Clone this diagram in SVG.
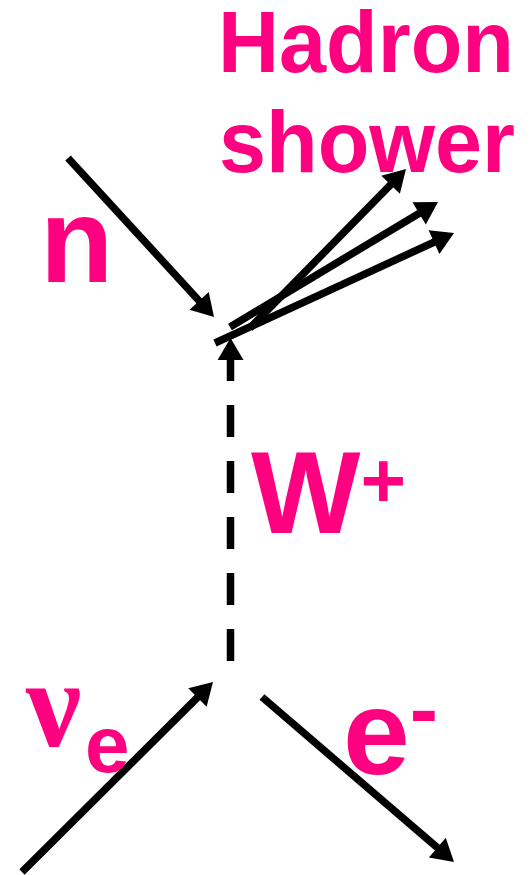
<svg xmlns="http://www.w3.org/2000/svg" width="530" height="875" viewBox="0 0 530 875">
<style>
.lbl{fill:#FF0080;font-family:"Liberation Sans",Arial,sans-serif;font-weight:bold}
.ln{stroke:#000;stroke-width:7.5;fill:none}
.dash{stroke-dasharray:32 24}
</style>
<defs>
<marker id="ah" markerUnits="userSpaceOnUse" markerWidth="24" markerHeight="26" viewBox="0 0 22 26" refX="10" refY="13" orient="auto">
<path d="M0,0 L22,13 L0,26 Z" fill="#000"/>
</marker>
</defs>
<rect width="530" height="875" fill="#fff"/>
<g id="connectors">
<line class="ln" x1="68" y1="158" x2="205.9" y2="308.2" marker-end="url(#ah)"/>
<line class="ln" x1="250" y1="328" x2="397.6" y2="177.6" marker-end="url(#ah)"/>
<line class="ln" x1="230" y1="327" x2="427.7" y2="208.2" marker-end="url(#ah)"/>
<line class="ln" x1="215" y1="343" x2="443.1" y2="238" marker-end="url(#ah)"/>
<line class="ln dash" x1="230.5" y1="661" x2="230.5" y2="350" marker-end="url(#ah)"/>
<line class="ln" x1="22" y1="872" x2="204.5" y2="690.5" marker-end="url(#ah)"/>
<line class="ln" x1="262" y1="697" x2="444.9" y2="854.2" marker-end="url(#ah)"/>
</g>
<g id="hadron-shower">
<text class="lbl" x="218" y="72" font-size="88" textLength="296" lengthAdjust="spacingAndGlyphs">Hadron</text>
<text class="lbl" x="219" y="172" font-size="88" textLength="296" lengthAdjust="spacingAndGlyphs">shower</text>
</g>
<g id="neutron">
<text class="lbl" x="40" y="282" font-size="120">n</text>
</g>
<g id="w-boson">
<text class="lbl" x="251" y="533" font-size="116">W<tspan font-size="78" y="507">+</tspan></text>
</g>
<g id="electron">
<text class="lbl" x="343" y="774" font-size="120">e<tspan font-size="85" y="738">-</tspan></text>
</g>
<g id="neutrino">
<text class="lbl" x="26" y="746" font-size="124" style="font-family:'Liberation Serif',serif">ν</text>
<text class="lbl" x="85" y="772" font-size="80">e</text>
</g>
</svg>
